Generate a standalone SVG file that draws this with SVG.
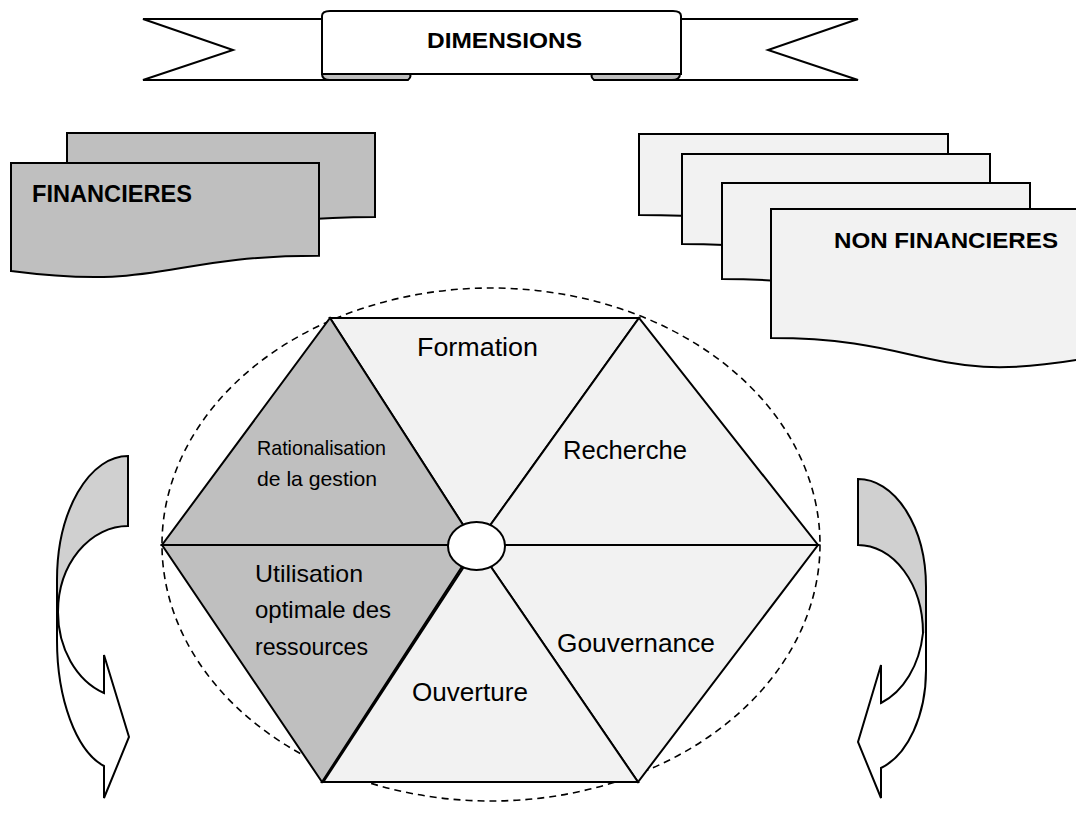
<svg xmlns="http://www.w3.org/2000/svg" width="1076" height="818" viewBox="0 0 1076 818">
  <style>
    .ln { stroke: #000; stroke-width: 2; stroke-linejoin: miter; }
    .dark { fill: #bfbfbf; }
    .light { fill: #f2f2f2; }
    .soft { fill: #d0d0d0; }
    .white { fill: #fff; }
    .title { font-family: "Liberation Sans", Arial, sans-serif; font-weight: bold; fill: #000; }
    .lbl { font-family: "Liberation Sans", Arial, sans-serif; fill: #000; }
  </style>
  <rect width="1076" height="818" fill="#fff"/>

  <!-- Ribbon banner -->
  <g id="banner">
    <path class="ln white" d="M143,19 L330,19 L330,80 L143,80 L233,50 Z"/>
    <path class="ln white" d="M858,19 L672,19 L672,80 L858,80 L768,50 Z"/>
    <path class="ln dark" d="M322,72 L408,72 Q413,76 408,80 L330,80 Q322,80 322,74 Z"/>
    <path class="ln dark" d="M680,72 L594,72 Q589,76 594,80 L672,80 Q680,80 680,74 Z"/>
    <path class="ln white" d="M322,74 L322,16 Q322,11 330,11 L673,11 Q681,11 681,16 L681,74 Z"/>
    <text class="title" x="427" y="48" font-size="22.5" textLength="155" lengthAdjust="spacingAndGlyphs">DIMENSIONS</text>
  </g>

  <!-- Financial dimension cards -->
  <g id="financieres">
    <path class="ln dark" d="M67,133 L375,133 L375,217 C221,217 221,249 67,231 Z"/>
    <path class="ln dark" d="M11,163 L319,163 L319,255.7 C165,255.7 165,291 11,271 Z"/>
    <text class="title" x="32" y="202" font-size="23.5" textLength="160" lengthAdjust="spacingAndGlyphs">FINANCIERES</text>
  </g>

  <!-- Non-financial dimension cards -->
  <g id="non-financieres">
    <path class="ln light" d="M639,134 L948,134 L948,228 C793.5,244 793.5,215 639,215 Z"/>
    <path class="ln light" d="M682,154 L990,154 L990,259 C836,278 836,244 682,244 Z"/>
    <path class="ln light" d="M722,183 L1030,183 L1030,295 C876,316 876,279 722,279 Z"/>
    <path class="ln light" d="M771,209 L1088,209 L1088,358 C929.5,387 929.5,338 771,338 Z"/>
    <text class="title" x="834" y="248" font-size="22.5" textLength="224" lengthAdjust="spacingAndGlyphs">NON FINANCIERES</text>
  </g>

  <!-- Dimension wheel -->
  <g id="wheel">
    <ellipse cx="491" cy="544.5" rx="329" ry="256.5" fill="none" stroke="#000" stroke-width="1.6" stroke-dasharray="7,5"/>
    <g id="seg-formation"><path class="ln light" d="M476,545 L330,318 L639,318 Z"/>
      <text class="lbl" x="417" y="356" font-size="26" textLength="121" lengthAdjust="spacingAndGlyphs">Formation</text></g>
    <g id="seg-recherche"><path class="ln light" d="M476,545 L639,318 L818,545 Z"/>
      <text class="lbl" x="563" y="459" font-size="26" textLength="124" lengthAdjust="spacingAndGlyphs">Recherche</text></g>
    <g id="seg-gouvernance"><path class="ln light" d="M476,545 L818,545 L638,782 Z"/>
      <text class="lbl" x="557" y="652" font-size="26" textLength="158" lengthAdjust="spacingAndGlyphs">Gouvernance</text></g>
    <g id="seg-ouverture"><path class="ln light" d="M476,545 L638,782 L322,782 Z"/>
      <text class="lbl" x="412" y="701" font-size="26" textLength="116" lengthAdjust="spacingAndGlyphs">Ouverture</text></g>
    <g id="seg-utilisation"><path class="ln dark" d="M476,545 L322,782 L162,545 Z"/>
      <!-- second edge of the overlapping lower segments -->
      <line class="ln" x1="471" y1="556" x2="324" y2="781"/>
      <text class="lbl" font-size="24">
        <tspan x="255" y="582" textLength="108" lengthAdjust="spacingAndGlyphs">Utilisation</tspan>
        <tspan x="255" y="618" textLength="136" lengthAdjust="spacingAndGlyphs">optimale des</tspan>
        <tspan x="255" y="655" textLength="113" lengthAdjust="spacingAndGlyphs">ressources</tspan>
      </text></g>
    <g id="seg-rationalisation"><path class="ln dark" d="M476,545 L162,545 L330,318 Z"/>
      <text class="lbl" font-size="21">
        <tspan x="257" y="455" textLength="129" lengthAdjust="spacingAndGlyphs">Rationalisation</tspan>
        <tspan x="257" y="486" textLength="120" lengthAdjust="spacingAndGlyphs">de la gestion</tspan>
      </text></g>
    <ellipse id="hub" class="ln white" cx="476.5" cy="546" rx="28.5" ry="24"/>
  </g>

  <!-- Circular arrows -->
  <g id="connectors">
    <g id="arrow-left">
      <path class="white" d="M128,456 L128,526 A70,86 0 0 0 58,612 A70,86 0 0 0 104,693 L104,655 L129,737 L104,798 L104,766 A63,130 0 0 1 57,640 L57,580 A71,124 0 0 1 128,456 Z"/>
      <path class="soft" d="M128,457 L128,526 A70,86 0 0 0 58,612 L57,612 L57,580 A71,124 0 0 1 128,457 Z"/>
      <path class="ln" fill="none" d="M128,456 L128,526 A70,86 0 0 0 58,612 A70,86 0 0 0 104,693 L104,655 L129,737 L104,798 L104,766 A63,130 0 0 1 57,640 L57,580 A71,124 0 0 1 128,456 Z"/>
    </g>
    <g id="arrow-right">
      <path class="white" d="M858,479 A68,108 0 0 1 926,587 L926,670 A63,102 0 0 1 881,768 L881,798 L858,742 L881,665 L881,703 A65,88 0 0 0 923,633 A65,88 0 0 0 858,545 Z"/>
      <path class="soft" d="M858,480 A68,108 0 0 1 926,587 L926,633 L923,633 A65,88 0 0 0 858,545 Z"/>
      <path class="ln" fill="none" d="M858,479 A68,108 0 0 1 926,587 L926,670 A63,102 0 0 1 881,768 L881,798 L858,742 L881,665 L881,703 A65,88 0 0 0 923,633 A65,88 0 0 0 858,545 Z"/>
    </g>
  </g>
</svg>
